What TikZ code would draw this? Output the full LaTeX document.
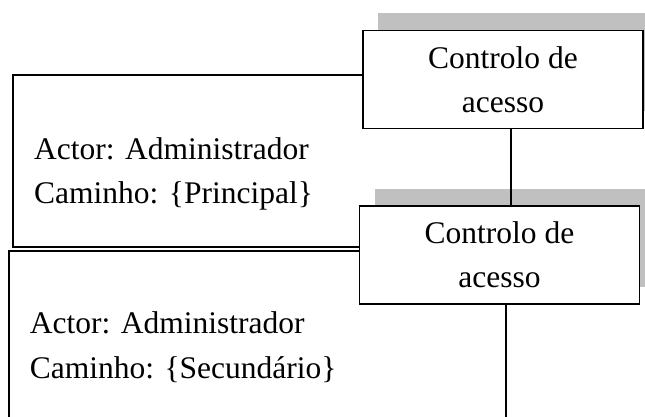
\documentclass[tikz,border=0pt]{standalone}
\usepackage{fontspec}
\setmainfont{Liberation Serif}
\usetikzlibrary{shadows}
\definecolor{shadowgray}{HTML}{C0C0C0}
\tikzset{
  ctrlbox/.style={draw, line width=1.6pt, fill=white, rectangle,
    minimum width=280pt, minimum height=98pt, inner sep=0pt,
    align=center, font=\fontsize{31.5}{44}\selectfont,
    general shadow={fill=shadowgray, draw=none, shadow xshift=15pt, shadow yshift=17.5pt}},
  frame/.style={line width=1.6pt},
  conn/.style={line width=1.4pt},
  info/.style={anchor=base west, inner sep=0pt, font=\fontsize{31.5}{44}\selectfont}
}
\begin{document}
\begin{tikzpicture}[x=1pt,y=-1pt]
\useasboundingbox (0,0) rectangle (645,417);

% access-control boxes with their grey shadows
\node[ctrlbox] (ctrlA) at (503,79.5) {Controlo de\\acesso};
\node[ctrlbox] (ctrlB) at (499.5,255) {Controlo de\\acesso};

% open frames of the two scenarios, running into the boxes
\draw[frame] (ctrlA.west |- 0,75.3) -- (13.2,75.3) -- (13.2,246.7) -- (ctrlB.west |- 0,246.7);
\draw[frame] (ctrlB.west |- 0,250.7) -- (9,250.7) -- (9,420);

% scenario labels
\node[info] (act1) at (34,159.3) {Actor: Administrador};
\node[info] (path1) at (34,203) {Caminho: \{Principal\}};
\node[info] (act2) at (29.6,333.3) {Actor: Administrador};
\node[info] (path2) at (29.6,378.3) {Caminho: \{Secundário\}};

% connectors
\coordinate (endB) at (506,420);
\draw[conn] ([xshift=8pt]ctrlA.south) -- ([xshift=8pt]ctrlA.south |- ctrlB.north);
\draw[conn] (ctrlB.south -| endB) -- (endB);
\end{tikzpicture}
\end{document}
